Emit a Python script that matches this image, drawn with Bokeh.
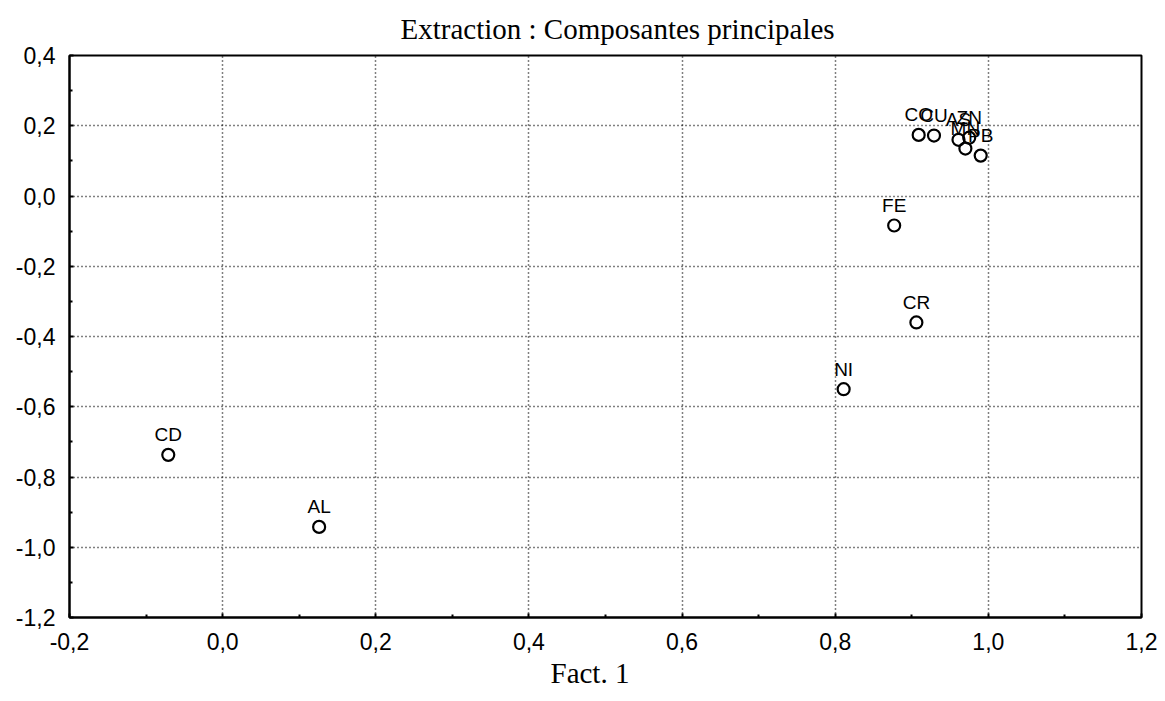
from bokeh.plotting import figure
from bokeh.models import ColumnDataSource, FixedTicker, CustomJSTickFormatter, Title, Range1d
from bokeh.core.properties import value
from bokeh.embed import file_html
from bokeh.resources import INLINE

names = ["CD", "AL", "NI", "CR", "FE", "CO", "CU", "AS", "ZN", "MN", "PB"]
fact1 = [-0.071, 0.126, 0.811, 0.906, 0.877, 0.909, 0.929, 0.961, 0.975, 0.970, 0.990]
fact2 = [-0.737, -0.942, -0.550, -0.360, -0.084, 0.174, 0.172, 0.160, 0.166, 0.135, 0.115]

x_ticks = [-0.2, 0.0, 0.2, 0.4, 0.6, 0.8, 1.0, 1.2]
y_ticks = [-1.2, -1.0, -0.8, -0.6, -0.4, -0.2, 0.0, 0.2, 0.4]
x_minor = [-0.1, 0.1, 0.3, 0.5, 0.7, 0.9, 1.1]
y_minor = [-1.1, -0.9, -0.7, -0.5, -0.3, -0.1, 0.1, 0.3]

src = ColumnDataSource(dict(x=fact1, y=fact2, name=names))

p = figure(width=1157, height=693, output_backend="svg", toolbar_location=None,
           x_range=Range1d(-0.2, 1.2), y_range=Range1d(-1.2, 0.4),
           frame_width=1072, frame_height=562,
           min_border_left=69, min_border_right=16, min_border_top=55, min_border_bottom=76)
p.background_fill_color = "white"
p.border_fill_color = "white"
p.outline_line_color = "black"
p.outline_line_width = 2

p.add_layout(Title(text="Extraction : Composantes principales", align="left",
                   text_font="Liberation Serif", text_font_size="29px",
                   text_font_style="normal", text_color="black", offset=331, standoff=21), "above")

fmt = CustomJSTickFormatter(code="var s = tick.toFixed(1).replace('.', ','); if (s == '-0,0') s = '0,0'; return s;")
for ax, ticks, minor in ((p.xaxis[0], x_ticks, x_minor), (p.yaxis[0], y_ticks, y_minor)):
    ax.ticker = FixedTicker(ticks=ticks, minor_ticks=minor)
    ax.formatter = fmt
    ax.major_label_text_font = "Liberation Sans"
    ax.major_label_text_font_size = "23px"
    ax.major_label_text_color = "black"
    ax.axis_line_color = "black"
    ax.axis_line_width = 2
    ax.major_tick_in = 4
    ax.major_tick_out = 0
    ax.minor_tick_in = 3
    ax.minor_tick_out = 0
    ax.major_tick_line_color = "black"
    ax.major_tick_line_width = 2
    ax.minor_tick_line_color = "black"
    ax.minor_tick_line_width = 2

p.xaxis.major_label_standoff = 15
p.yaxis.major_label_standoff = 14

p.add_layout(Title(text="Fact. 1", align="left",
                   text_font="Liberation Serif", text_font_size="29px",
                   text_font_style="normal", text_color="black", offset=481, standoff=4), "below")

for g in (p.xgrid[0], p.ygrid[0]):
    g.grid_line_color = "black"
    g.grid_line_dash = "1 3"
    g.grid_line_width = 1.5

p.scatter("x", "y", source=src, size=12, marker="circle", fill_color=None,
          line_color="black", line_width=2.2)
p.text("x", "y", text="name", source=src, text_align="center", text_baseline="alphabetic",
       y_offset=-20, text_font_size="19px", text_color="black",
       text_font=value("Liberation Sans"))

open("out.html", "w").write(file_html(p, INLINE))
